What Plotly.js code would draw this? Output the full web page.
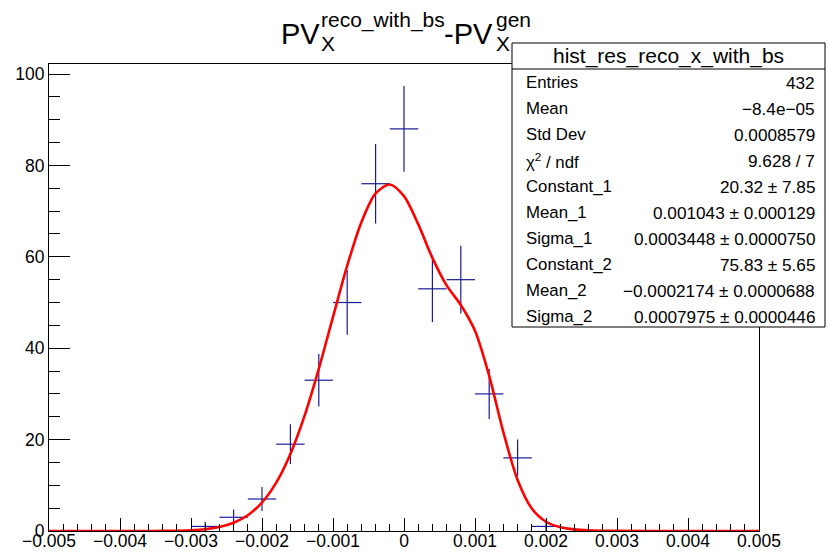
<!DOCTYPE html>
<html>
<head>
<meta charset="utf-8">
<script src="https://cdn.plot.ly/plotly-3.0.1.min.js"></script>
<style>html,body{margin:0;padding:0;background:#fff;}#chart{width:828px;height:554px;}</style>
</head>
<body>
<div id="chart"></div>
<script>
// ---- data ----
const binCenters = [-0.0028, -0.0024, -0.0020, -0.0016, -0.0012, -0.0008, -0.0004, 0.0, 0.0004, 0.0008, 0.0012, 0.0016, 0.0020];
const binCounts  = [1, 3, 7, 19, 33, 50, 76, 88, 53, 55, 30, 16, 1];
const binHalfWidth = 0.0002;

const fitX = [-0.005, -0.004, -0.0036, -0.0034, -0.0032, -0.0030, -0.0028, -0.0026, -0.0024, -0.0022, -0.0020,
  -0.0018, -0.0016, -0.0014, -0.0012, -0.0010, -0.0008, -0.0006, -0.0004, -0.0002, 0.0, 0.0002, 0.0004, 0.0006,
  0.0008, 0.0010, 0.0012, 0.0014, 0.0016, 0.0018, 0.0020, 0.0022, 0.0024, 0.0026, 0.0028, 0.0030, 0.004, 0.005];
const fitY = [0, 0.001, 0.009, 0.026, 0.070, 0.172, 0.400, 0.874, 1.793, 3.450, 6.237,
  10.584, 16.871, 25.255, 35.496, 46.852, 58.071, 67.587, 73.871, 75.843, 73.273, 67.147, 59.765, 53.750,
  49.458, 43.814, 33.948, 21.587, 11.162, 4.917, 2.022, 0.840, 0.357, 0.149, 0.059, 0.022, 0.0003, 0];

const xTickVals = [-0.005, -0.004, -0.003, -0.002, -0.001, 0, 0.001, 0.002, 0.003, 0.004, 0.005];
const xTickText = ["\u22120.005", "\u22120.004", "\u22120.003", "\u22120.002", "\u22120.001", "0", "0.001", "0.002", "0.003", "0.004", "0.005"];
const yTickVals = [0, 20, 40, 60, 80, 100];

const statsTitle = "hist_res_reco_x_with_bs";
const statsLabels = ["Entries", "Mean", "Std Dev", "\u03c7<sup>2</sup> / ndf", "Constant_1", "Mean_1", "Sigma_1", "Constant_2", "Mean_2", "Sigma_2"];
const statsValues = ["432", "\u22128.4e\u221205", "0.0008579", "9.628 / 7", "20.32 \u00b1 7.85", "0.001043 \u00b1 0.000129",
  "0.0003448 \u00b1 0.0000750", "75.83 \u00b1 5.65", "\u22120.0002174 \u00b1 0.0000688", "0.0007975 \u00b1 0.0000446"];

// ---- layout helpers (pixel -> paper) ----
const W = 828, H = 554;
const M = {l: 49, r: 69, t: 64, b: 23};
const PW = W - M.l - M.r, PH = H - M.t - M.b;
const px = v => (v - M.l) / PW;
const py = v => (H - M.b - v) / PH;
const FONT = "Liberation Sans, Arial, Helvetica, sans-serif";
const navy = "#1a1a99";

const traces = [
  {
    x: binCenters, y: binCounts, type: "scatter", mode: "markers",
    marker: {size: 1, opacity: 0, color: navy},
    error_x: {type: "constant", value: binHalfWidth, width: 0, thickness: 1.2, color: navy},
    error_y: {type: "data", array: binCounts.map(Math.sqrt), width: 0, thickness: 1.2, color: navy},
    hoverinfo: "skip", showlegend: false
  },
  {
    x: fitX, y: fitY, type: "scatter", mode: "lines",
    line: {color: "#ff0000", width: 2.6, shape: "spline", smoothing: 0.8},
    hoverinfo: "skip", showlegend: false
  }
];

const annotations = [];
function addText(text, x, y, size, xanchor) {
  annotations.push({text: text, xref: "paper", yref: "paper", x: px(x), y: py(y), xanchor: xanchor || "left",
    yanchor: "middle", showarrow: false, font: {family: FONT, size: size, color: "#000"}, borderpad: 0});
}
// title
addText("PV", 280, 34, 29);
addText("reco_with_bs", 320, 20, 21);
addText("X", 320, 43, 21);
addText("-PV", 443, 34, 29);
addText("gen", 495, 20, 21);
addText("X", 495, 43, 21);
// stats box text
addText(statsTitle, 668.5, 56, 21, "center");
statsLabels.forEach((t, i) => addText(t, 525, 82.7 + 26 * i, 16.8));
statsValues.forEach((t, i) => addText(t, 816, 82.7 + 26 * i, 17.2, "right"));

const shapes = [
  {type: "rect", xref: "paper", yref: "paper", x0: px(512), x1: px(825), y0: py(327), y1: py(43),
    line: {color: "#000", width: 1}, fillcolor: "#fff", layer: "above"},
  {type: "line", xref: "paper", yref: "paper", x0: px(512), x1: px(825), y0: py(69), y1: py(69),
    line: {color: "#000", width: 1}, layer: "above"}
];

const layout = {
  width: W, height: H, margin: M,
  paper_bgcolor: "#fff", plot_bgcolor: "#fff",
  font: {family: FONT, size: 17.5, color: "#000"},
  showlegend: false,
  xaxis: {
    range: [-0.005, 0.005], tickvals: xTickVals, ticktext: xTickText,
    ticks: "inside", ticklen: 13, tickwidth: 1, tickcolor: "#000",
    minor: {dtick: 0.0002, tick0: 0, ticks: "inside", ticklen: 7, tickwidth: 1, tickcolor: "#000"},
    showline: true, linecolor: "#000", linewidth: 1, mirror: true, ticklabelstandoff: -6,
    showgrid: false, zeroline: false, tickfont: {family: FONT, size: 17.5, color: "#000"}
  },
  yaxis: {
    range: [0, 102.2], tickvals: yTickVals,
    ticks: "inside", ticklen: 21, tickwidth: 1, tickcolor: "#000",
    minor: {dtick: 5, tick0: 0, ticks: "inside", ticklen: 11, tickwidth: 1, tickcolor: "#000"},
    showline: true, linecolor: "#000", linewidth: 1, mirror: true,
    showgrid: false, zeroline: false, tickfont: {family: FONT, size: 17.5, color: "#000"}
  },
  annotations: annotations,
  shapes: shapes
};

Plotly.newPlot("chart", traces, layout, {staticPlot: true, displayModeBar: false});
</script>
</body>
</html>
